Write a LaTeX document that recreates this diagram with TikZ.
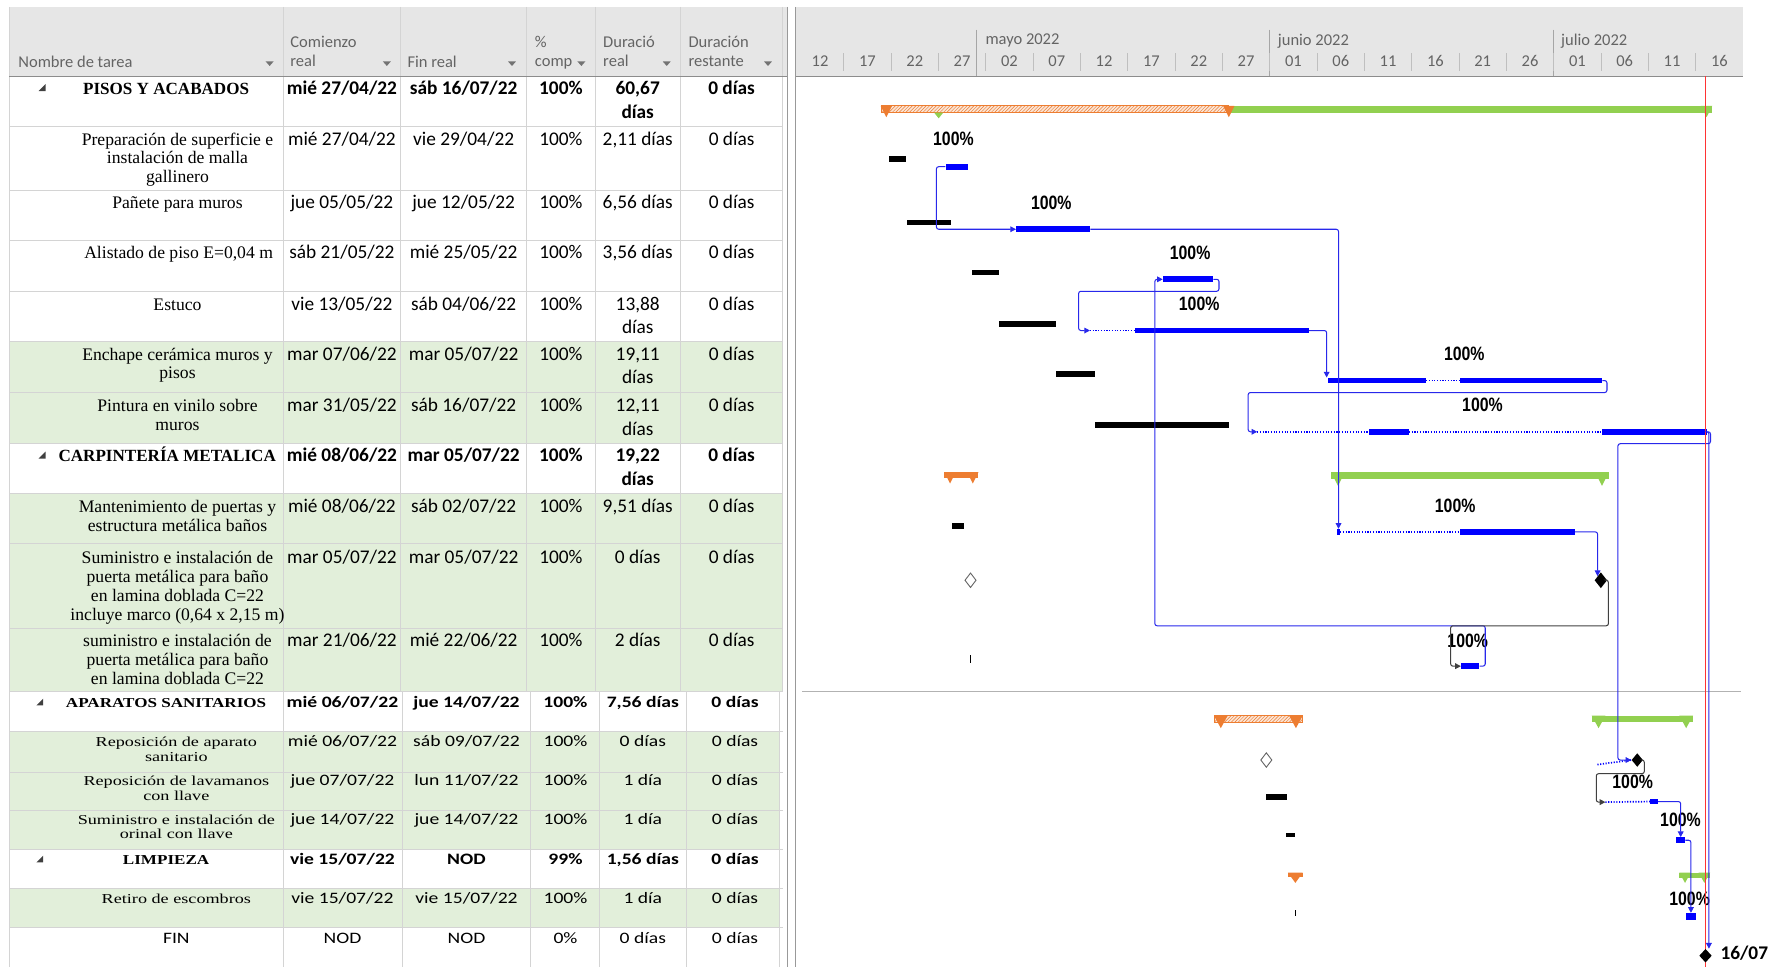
\documentclass[tikz,border=0pt]{standalone}
\usepackage{fontspec}
\setmainfont{Liberation Serif}
\newfontfamily\datafont{Carlito}
\newfontfamily\lowdata[FakeStretch=1.23]{Carlito}
\newfontfamily\lowname[FakeStretch=1.33]{Liberation Serif}
\newfontfamily\lowsum[FakeStretch=1.25]{Liberation Serif}
\newfontfamily\pctfont[FakeStretch=0.82]{Liberation Sans}
\usetikzlibrary{arrows.meta,patterns,shapes.geometric}
\definecolor{rowgreen}{RGB}{226,239,218}
\definecolor{hdrgray}{RGB}{230,230,230}
\definecolor{gridgray}{RGB}{212,212,212}
\definecolor{hdrtext}{RGB}{100,100,100}
\definecolor{sumorange}{RGB}{237,125,49}
\definecolor{sumgreen}{RGB}{146,208,80}
\definecolor{barblue}{RGB}{0,0,255}
\definecolor{linkblue}{RGB}{40,40,235}

\begin{document}
\begin{tikzpicture}[x=1pt, y=-1pt,
  gridline/.style={draw=gridgray, line width=0.8pt},
  hd/.style={font=\datafont\fontsize{14.5}{17}\selectfont, text=hdrtext, inner sep=0pt, align=left},
  nm/.style={anchor=base, inner sep=0pt, align=center, font=\fontsize{15.5}{16.5}\selectfont},
  smn/.style={nm, font=\bfseries\fontsize{15}{16.5}\selectfont},
  dt/.style={anchor=base, inner sep=0pt, align=center, font=\datafont\fontsize{17}{21}\selectfont},
  dtb/.style={dt, font=\datafont\bfseries\fontsize{17}{21}\selectfont},
  lnm/.style={anchor=base, inner sep=0pt, align=center, font=\lowname\fontsize{12}{12.8}\selectfont},
  lsm/.style={anchor=base, inner sep=0pt, font=\lowsum\bfseries\fontsize{12}{13}\selectfont},
  ldt/.style={anchor=base, inner sep=0pt, font=\lowdata\fontsize{14}{16}\selectfont},
  ldtb/.style={ldt, font=\lowdata\bfseries\fontsize{14}{16}\selectfont},
  pct/.style={inner sep=0pt, font=\pctfont\bfseries\fontsize{17}{17}\selectfont},
  bluebar/.style={fill=barblue, inner sep=0pt, minimum height=5pt, anchor=west},
  dotbar/.style={draw=barblue, line width=1.5pt, dash pattern=on 1pt off 1.4pt},
  link/.style={draw=linkblue, line width=0.9pt, rounded corners=2pt, -{Triangle[length=5pt,width=5pt]}},
  blink/.style={link, draw=black!75},
  mile/.style={diamond, fill=black, inner sep=0pt, minimum width=11pt, minimum height=14pt},
  basemile/.style={diamond, draw=black!60, fill=white, line width=0.8pt, inner sep=0pt, minimum width=10pt, minimum height=13pt}]
  \useasboundingbox (0,0) rectangle (1568,850);

  % header and row backgrounds
  \fill[hdrgray] (8,6) rectangle (692,67);
  \fill[hdrgray] (700,6) rectangle (1532,67);
  \fill[rowgreen] (8,300) rectangle (688,390);
  \fill[rowgreen] (8,434) rectangle (688,608);
  \fill[rowgreen] (8,643) rectangle (685,747);
  \fill[rowgreen] (8,781) rectangle (685,815);

  % table grid
  \foreach \y in {111,167,211,256,300,345,390,434,478,552,608,643,679,712,747,781,815}
    \draw[gridline] (8,\y) -- (688,\y);
  \foreach \x in {8,249,352,463,523,598,688}
    \draw[gridline] (\x,6) -- (\x,608);
  \foreach \x in {8,249,354,466,527,603,685}
    \draw[gridline] (\x,608) -- (\x,850);
  \draw[black!45, line width=0.8pt] (8,67) -- (692,67);
  \draw[black!45, line width=0.8pt] (700,67) -- (1532,67);
  \draw[black!40, line width=0.8pt] (692,6) -- (692,850);
  \draw[black!40, line width=0.8pt] (699,6) -- (699,850);
  \draw[black!30, line width=1pt] (705,608) -- (1530,608);

  % column headers
  \node[hd, anchor=west] (h1) at (16,54) {Nombre de tarea};
  \node[hd, anchor=north west] (h2) at (255,31.5) {Comienzo\\real};
  \node[hd, anchor=west] (h3) at (358,54) {Fin real};
  \node[hd, anchor=north west] (h4) at (470,31.5) {\%\\comp};
  \node[hd, anchor=north west] (h5) at (530,31.5) {Duració\\real};
  \node[hd, anchor=north west] (h6) at (605,31.5) {Duración\\restante};
  \foreach \x in {237,340,450,511,586,675}
    \fill[black!55] (\x-3.5,54) -- (\x+3.5,54) -- (\x,58) -- cycle;

  % timescale
  \node[hd, anchor=west] (mayo) at (866,36) {mayo 2022};
  \node[hd, anchor=west] (junio) at (1123,36) {junio 2022};
  \node[hd, anchor=west] (julio) at (1372,36) {julio 2022};
  \foreach \x in {858,1116,1365.5}
    \draw[black!35, line width=0.8pt] (\x,26) -- (\x,67);
  \foreach \k in {1,...,19}
    \draw[black!25, line width=0.8pt] (700+41.6*\k,47) -- (700+41.6*\k,62);
  \foreach \d [count=\k from 0] in {12,17,22,27,02,07,12,17,22,27,01,06,11,16,21,26,01,06,11,16}
    \node[hd] (t\k) at (720.8+41.6*\k,54) {\d};

  % summary markers
  \foreach \y in {80,403}
    \fill[black!75] (34,\y) -- (40,\y) -- (40,\y-6) -- cycle;
  \foreach \y in {620,758}
    \fill[black!75] (32,\y) -- (38,\y) -- (38,\y-6) -- cycle;

  % PISOS Y ACABADOS (multi-line cells sit on their last baseline)
  \node[smn] (tn1) at (146,83.5) {PISOS Y ACABADOS};
  \node[dtb] (ts1) at (300.5,83.5) {mié 27/04/22};
  \node[dtb] (tf1) at (407.5,83.5) {sáb 16/07/22};
  \node[dtb] (tp1) at (493,83.5) {100\%};
  \node[dtb] (td1) at (560.5,104.5) {60,67\\días};
  \node[dtb] (tr1) at (643,83.5) {0 días};
  \node[nm] (tn2) at (156,160.5) {Preparación de superficie e\\instalación de malla\\gallinero};
  \node[dt] (ts2) at (300.5,127.5) {mié 27/04/22};
  \node[dt] (tf2) at (407.5,127.5) {vie 29/04/22};
  \node[dt] (tp2) at (493,127.5) {100\%};
  \node[dt] (td2) at (560.5,127.5) {2,11 días};
  \node[dt] (tr2) at (643,127.5) {0 días};
  \node[nm] (tn3) at (156,183.5) {Pañete para muros};
  \node[dt] (ts3) at (300.5,183.5) {jue 05/05/22};
  \node[dt] (tf3) at (407.5,183.5) {jue 12/05/22};
  \node[dt] (tp3) at (493,183.5) {100\%};
  \node[dt] (td3) at (560.5,183.5) {6,56 días};
  \node[dt] (tr3) at (643,183.5) {0 días};
  \node[nm] (tn4) at (157,227.5) {Alistado de piso E=0,04 m};
  \node[dt] (ts4) at (300.5,227.5) {sáb 21/05/22};
  \node[dt] (tf4) at (407.5,227.5) {mié 25/05/22};
  \node[dt] (tp4) at (493,227.5) {100\%};
  \node[dt] (td4) at (560.5,227.5) {3,56 días};
  \node[dt] (tr4) at (643,227.5) {0 días};
  \node[nm] (tn5) at (156,272.5) {Estuco};
  \node[dt] (ts5) at (300.5,272.5) {vie 13/05/22};
  \node[dt] (tf5) at (407.5,272.5) {sáb 04/06/22};
  \node[dt] (tp5) at (493,272.5) {100\%};
  \node[dt] (td5) at (560.5,293.5) {13,88\\días};
  \node[dt] (tr5) at (643,272.5) {0 días};
  \node[nm] (tn6) at (156,333) {Enchape cerámica muros y\\pisos};
  \node[dt] (ts6) at (300.5,316.5) {mar 07/06/22};
  \node[dt] (tf6) at (407.5,316.5) {mar 05/07/22};
  \node[dt] (tp6) at (493,316.5) {100\%};
  \node[dt] (td6) at (560.5,337.5) {19,11\\días};
  \node[dt] (tr6) at (643,316.5) {0 días};
  \node[nm] (tn7) at (156,378) {Pintura en vinilo sobre\\muros};
  \node[dt] (ts7) at (300.5,361.5) {mar 31/05/22};
  \node[dt] (tf7) at (407.5,361.5) {sáb 16/07/22};
  \node[dt] (tp7) at (493,361.5) {100\%};
  \node[dt] (td7) at (560.5,382.5) {12,11\\días};
  \node[dt] (tr7) at (643,361.5) {0 días};

  % CARPINTERIA METALICA
  \node[smn] (tn8) at (147,405.5) {CARPINTERÍA METALICA};
  \node[dtb] (ts8) at (300.5,405.5) {mié 08/06/22};
  \node[dtb] (tf8) at (407.5,405.5) {mar 05/07/22};
  \node[dtb] (tp8) at (493,405.5) {100\%};
  \node[dtb] (td8) at (560.5,426.5) {19,22\\días};
  \node[dtb] (tr8) at (643,405.5) {0 días};
  \node[nm] (tn9) at (156,467) {Mantenimiento de puertas y\\estructura metálica baños};
  \node[dt] (ts9) at (300.5,450.5) {mié 08/06/22};
  \node[dt] (tf9) at (407.5,450.5) {sáb 02/07/22};
  \node[dt] (tp9) at (493,450.5) {100\%};
  \node[dt] (td9) at (560.5,450.5) {9,51 días};
  \node[dt] (tr9) at (643,450.5) {0 días};
  \node[nm] (tn10) at (156,545) {Suministro e instalación de\\puerta metálica para baño\\en lamina doblada C=22\\incluye marco (0,64 x 2,15 m)};
  \node[dt] (ts10) at (300.5,495.5) {mar 05/07/22};
  \node[dt] (tf10) at (407.5,495.5) {mar 05/07/22};
  \node[dt] (tp10) at (493,495.5) {100\%};
  \node[dt] (td10) at (560.5,495.5) {0 días};
  \node[dt] (tr10) at (643,495.5) {0 días};
  \node[nm] (tn11) at (156,601.5) {suministro e instalación de\\puerta metálica para baño\\en lamina doblada C=22};
  \node[dt] (ts11) at (300.5,568.5) {mar 21/06/22};
  \node[dt] (tf11) at (407.5,568.5) {mié 22/06/22};
  \node[dt] (tp11) at (493,568.5) {100\%};
  \node[dt] (td11) at (560.5,568.5) {2 días};
  \node[dt] (tr11) at (643,568.5) {0 días};

  % APARATOS SANITARIOS
  \node[lsm] (tn12) at (146,621.5) {APARATOS SANITARIOS};
  \node[ldtb] (ts12) at (301,621.5) {mié 06/07/22};
  \node[ldtb] (tf12) at (410,621.5) {jue 14/07/22};
  \node[ldtb] (tp12) at (497,621.5) {100\%};
  \node[ldtb] (td12) at (565,621.5) {7,56 días};
  \node[ldtb] (tr12) at (646,621.5) {0 días};
  \node[lnm] (tn13) at (155,669.3) {Reposición de aparato\\sanitario};
  \node[ldt] (ts13) at (301,656.5) {mié 06/07/22};
  \node[ldt] (tf13) at (410,656.5) {sáb 09/07/22};
  \node[ldt] (tp13) at (497,656.5) {100\%};
  \node[ldt] (td13) at (565,656.5) {0 días};
  \node[ldt] (tr13) at (646,656.5) {0 días};
  \node[lnm] (tn14) at (155,703.3) {Reposición de lavamanos\\con llave};
  \node[ldt] (ts14) at (301,690.5) {jue 07/07/22};
  \node[ldt] (tf14) at (410,690.5) {lun 11/07/22};
  \node[ldt] (tp14) at (497,690.5) {100\%};
  \node[ldt] (td14) at (565,690.5) {1 día};
  \node[ldt] (tr14) at (646,690.5) {0 días};
  \node[lnm] (tn15) at (155,737.3) {Suministro e instalación de\\orinal con llave};
  \node[ldt] (ts15) at (301,724.5) {jue 14/07/22};
  \node[ldt] (tf15) at (410,724.5) {jue 14/07/22};
  \node[ldt] (tp15) at (497,724.5) {100\%};
  \node[ldt] (td15) at (565,724.5) {1 día};
  \node[ldt] (tr15) at (646,724.5) {0 días};

  % LIMPIEZA
  \node[lsm] (tn16) at (146,759.5) {LIMPIEZA};
  \node[ldtb] (ts16) at (301,759.5) {vie 15/07/22};
  \node[ldtb] (tf16) at (410,759.5) {NOD};
  \node[ldtb] (tp16) at (497,759.5) {99\%};
  \node[ldtb] (td16) at (565,759.5) {1,56 días};
  \node[ldtb] (tr16) at (646,759.5) {0 días};
  \node[lnm] (tn17) at (155,794.5) {Retiro de escombros};
  \node[ldt] (ts17) at (301,794.5) {vie 15/07/22};
  \node[ldt] (tf17) at (410,794.5) {vie 15/07/22};
  \node[ldt] (tp17) at (497,794.5) {100\%};
  \node[ldt] (td17) at (565,794.5) {1 día};
  \node[ldt] (tr17) at (646,794.5) {0 días};
  \node[ldt] (tn18) at (155,829.5) {FIN};
  \node[ldt] (ts18) at (301,829.5) {NOD};
  \node[ldt] (tf18) at (410,829.5) {NOD};
  \node[ldt] (tp18) at (497,829.5) {0\%};
  \node[ldt] (td18) at (565,829.5) {0 días};
  \node[ldt] (tr18) at (646,829.5) {0 días};

  % summary bars
  \fill[sumorange!20] (775,93) rectangle (1080,99);
  \draw[sumorange, line width=0.7pt, pattern=north east lines, pattern color=sumorange] (775,93) rectangle (1080,99);
  \fill[sumgreen] (1080,93) rectangle (1505,99);
  \foreach \x in {779,1080}
    \fill[sumorange] (\x-5,93) -- (\x+5,93) -- (\x,103) -- cycle;
  \fill[sumgreen] (821,99) -- (829,99) -- (825,104) -- cycle;
  \fill[sumgreen] (1495,93) -- (1505,93) -- (1500,103) -- cycle;
  \fill[sumorange] (830,415) rectangle (860,420);
  \foreach \x in {835,855}
    \fill[sumorange] (\x-5,415) -- (\x+5,415) -- (\x,425) -- cycle;
  \fill[sumgreen] (1170,415) rectangle (1414,421);
  \foreach \x in {1176,1408}
    \fill[sumgreen] (\x-6,415) -- (\x+6,415) -- (\x,427) -- cycle;
  \fill[sumorange!20] (1067,629) rectangle (1145,635);
  \draw[sumorange, line width=0.7pt, pattern=north east lines, pattern color=sumorange] (1067,629) rectangle (1145,635);
  \foreach \x in {1073,1139}
    \fill[sumorange] (\x-6,629) -- (\x+6,629) -- (\x,640) -- cycle;
  \fill[sumgreen] (1399,629) rectangle (1488,635);
  \foreach \x in {1405,1482}
    \fill[sumgreen] (\x-6,629) -- (\x+6,629) -- (\x,640) -- cycle;
  \fill[sumorange] (1132,767) rectangle (1145,771);
  \fill[sumorange] (1132,767) -- (1145,767) -- (1138.5,776) -- cycle;
  \fill[sumgreen] (1476,767) rectangle (1503,772);
  \foreach \x in {1481,1498}
    \fill[sumgreen] (\x-5,767) -- (\x+5,767) -- (\x,776) -- cycle;

  % baselines
  \fill (781,137) rectangle (796,142);
  \fill (797,193) rectangle (836,198);
  \fill (854,237) rectangle (878,242);
  \fill (878,282) rectangle (928,287);
  \fill (928,326) rectangle (962,331);
  \fill (962,371) rectangle (1080,376);
  \fill (837,460) rectangle (847,465);
  \draw[line width=0.8pt] (853,576) -- (853,583);
  \fill (1113,698) rectangle (1131,703);
  \fill (1130,732) rectangle (1138,736);
  \draw[line width=0.8pt] (1139,800) -- (1139,805);
  \node[basemile] (bm10) at (853,510) {};
  \node[basemile] (bm13) at (1113,668) {};

  % actual bars
  \node[bluebar, minimum width=20] (bar2) at (831,146.5) {};
  \node[bluebar, minimum width=65] (bar3) at (893,201.5) {};
  \node[bluebar, minimum width=44] (bar4) at (1022,245.5) {};
  \coordinate (s5) at (958,290.5);
  \node[bluebar, minimum width=153] (bar5) at (997,290.5) {};
  \draw[dotbar] (s5) -- (bar5.west);
  \node[bluebar, minimum width=86] (bar6a) at (1167,334.5) {};
  \node[bluebar, minimum width=125] (bar6b) at (1283,334.5) {};
  \draw[dotbar] (bar6a.east) -- (bar6b.west);
  \coordinate (s7) at (1105,379.5);
  \node[bluebar, minimum width=35] (bar7a) at (1203,379.5) {};
  \node[bluebar, minimum width=92] (bar7b) at (1408,379.5) {};
  \draw[dotbar] (s7) -- (bar7a.west);
  \draw[dotbar] (bar7a.east) -- (bar7b.west);
  \node[bluebar, minimum width=2.5] (bar9s) at (1175,467.5) {};
  \node[bluebar, minimum width=101] (bar9) at (1283,467.5) {};
  \draw[dotbar] (bar9s.east) -- (bar9.west);
  \node[mile] (ms10) at (1407,510) {};
  \node[bluebar, minimum width=16] (bar11) at (1284,585.5) {};
  \coordinate (s13) at (1404,672);
  \node[mile, minimum width=10pt, minimum height=12pt] (ms13) at (1439,668) {};
  \draw[dotbar] (s13) -- (ms13.west);
  \coordinate (s14) at (1411,705);
  \node[bluebar, minimum width=7] (bar14) at (1450,704.5) {};
  \draw[dotbar] (s14) -- (bar14.west);
  \node[bluebar, minimum width=8] (bar15) at (1473,738.5) {};
  \node[bluebar, minimum width=8, minimum height=6pt] (bar17) at (1482,805.5) {};

  % percentages
  \node[pct] (pc2) at (838,122) {100\%};
  \node[pct] (pc3) at (924,178) {100\%};
  \node[pct] (pc4) at (1046,222) {100\%};
  \node[pct] (pc5) at (1054,267) {100\%};
  \node[pct] (pc6) at (1287,311) {100\%};
  \node[pct] (pc7) at (1303,356) {100\%};
  \node[pct] (pc9) at (1279,445) {100\%};
  \node[pct] (pc11) at (1290,563) {100\%};
  \node[pct] (pc14) at (1435,687) {100\%};
  \node[pct] (pc15) at (1477,721) {100\%};
  \node[pct] (pc17) at (1485,790) {100\%};

  % links
  \coordinate (k4) at (1015,550);
  \coordinate (k5) at (948,256);
  \coordinate (k7) at (1097,345);
  \coordinate (k11) at (1275,550);
  \coordinate (k13) at (1422,390);
  \coordinate (k14) at (1403,680);
  \draw[link] (bar2.west) -- ++(-8,0) |- (bar3.west);
  \draw[link] (bar3.east) -| (bar9s.north);
  \draw[link] (bar11.east) -- ++(5,0) |- (k4) |- (bar4.west);
  \draw[link] (bar4.east) -- ++(5,0) |- (k5) |- (s5);
  \draw[link] (bar5.east) -| ([xshift=-1pt]bar6a.north west);
  \draw[link] (bar6b.east) -- ++(4,0) |- (k7) |- (s7);
  \draw[link] (bar9.east) -| (ms10.north west);
  \draw[blink] (ms10.east) -- ++(1,0) |- (k11) |- (bar11.west);
  \draw[link] (bar7b.east) -- ++(3,0) |- (k13) |- (ms13.west);
  \draw[blink] (ms13.east) -- ++(1,0) |- (k14) |- (s14);
  \draw[link] (bar14.east) -| (bar15.north);
  \draw[link] (bar15.east) -| (bar17.north);

  % status date and end
  \draw[red!80, line width=1pt] (1499,67) -- (1499,850);
  \node[mile, minimum width=11pt, minimum height=12pt] (fin) at (1499,840) {};
  \draw[link] (bar7b.east) -| ([xshift=3pt]fin.north);
  \node[anchor=west, inner sep=0pt, font=\datafont\bfseries\fontsize{17}{17}\selectfont] (dlab) at (1512,838) {16/07};
\end{tikzpicture}
\end{document}
